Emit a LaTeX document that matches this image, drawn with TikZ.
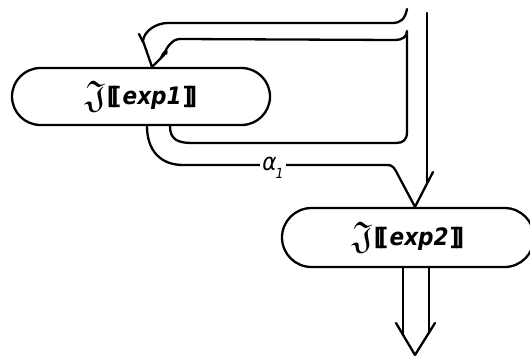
\documentclass[tikz,border=0pt]{standalone}
\usepackage{amssymb}
\usepackage{fontspec}
\newfontfamily\lbl{DejaVu Sans Condensed}
\newcommand{\dlb}{[\kern-0.22em[}
\newcommand{\drb}{]\kern-0.22em]}
\newcommand{\boxtext}[1]{\raisebox{-0.1em}{\scalebox{1.6}{$\mathfrak{J}$}}\kern0.03em{\lbl\bfseries\dlb\kern0.06em\itshape #1\kern0.04em\upshape\drb}}
\begin{document}
\begin{tikzpicture}[x=1pt,y=-1pt,
  line width=2.3pt, line cap=round, line join=round,
  evalbox/.style={draw, rectangle, inner sep=0pt, font=\fontsize{24}{24}\selectfont},
  flow/.style={draw}]
\useasboundingbox (0,0) rectangle (530,356);
\clip (0,0) rectangle (530,356);
% boxes
\node[evalbox, minimum width=258pt, minimum height=57pt, rounded corners=28.5pt] (b1) at (141,96.5) {\boxtext{exp1}};
\node[evalbox, minimum width=252pt, minimum height=59pt, rounded corners=29.5pt] (b2) at (408,237.5) {\boxtext{exp2}};
% named end points
\coordinate (t1) at (b1.north -| 152,0);
\coordinate (t2) at (b2.north -| 415,0);
\coordinate (t3) at (415,355);
\coordinate (top1) at (407,9);
\coordinate (top2) at (427,13);
\coordinate (o1) at (b1.south -| 147,0);
\coordinate (i1) at (b1.south -| 170,0);
\coordinate (d1) at (b2.south -| 403,0);
\coordinate (d2) at (b2.south -| 429,0);
% outer top line: from top down and left into box 1
\draw[flow] (top1) .. controls (405,19) and (401,23) .. (392,23) -- (168,23)
  .. controls (156,23) and (144,31) .. (143,41) -- (t1);
\draw[flow] (139,34) -- (143,42);
% inner line: box 1 bottom, right, up, left, back into box 1 top
\draw[flow] (i1) .. controls (170,139) and (177,143) .. (192,143) -- (396,143)
  .. controls (403,143) and (407,140) .. (407,132) -- (407,31)
  .. controls (407,37) and (402,40) .. (395,40) -- (180,39)
  .. controls (172,39) and (166,48) .. (164,55) -- (t1);
\draw[flow] (161,58) .. controls (163,52) and (168,48) .. (166,54);
% outer bottom line: box 1 bottom to box 2 top
\draw[flow] (o1) .. controls (147,150) and (160,165) .. (183,165) -- (388,165)
  .. controls (393,165) and (395,169) .. (398,175) -- (t2);
\node[fill=white, inner sep=2pt, font=\fontsize{24}{24}\selectfont] (a1) at (273,168)
  {{\lbl\itshape α\kern-0.05em\raisebox{-0.35em}{\fontsize{14}{14}\selectfont 1}}};
% right line into box 2
\draw[flow] (top2) -- (427,183);
\draw[flow] (433,172) -- (t2);
% output of box 2
\draw[flow] (d1) -- (403,335);
\draw[flow] (d2) -- (429,333);
\draw[flow] (396,323) -- (t3) -- (435,323);
\end{tikzpicture}
\end{document}
